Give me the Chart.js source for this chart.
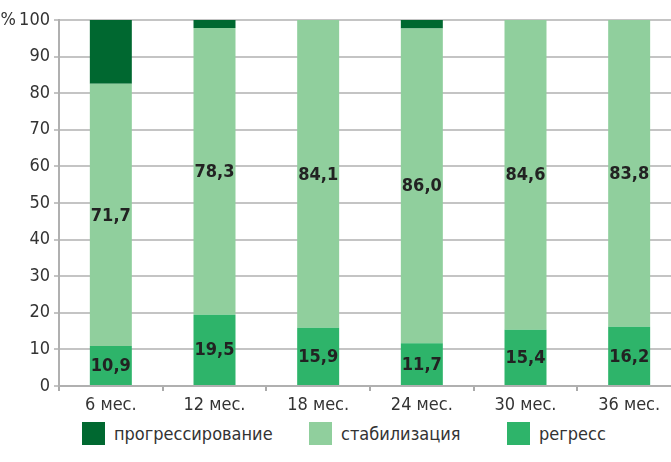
<!DOCTYPE html>
<html>
<head>
<meta charset="utf-8">
<script src="https://cdn.jsdelivr.net/npm/chart.js@4/dist/chart.umd.min.js"></script>
<style>
  html, body { margin: 0; padding: 0; background: #fff; overflow: hidden; }
  body { width: 671px; height: 462px; position: relative; }
  #wrap { position: absolute; left: 0; top: 0; width: 690px; height: 420px; }
  .legend { position: absolute; top: 422px; left: 0; height: 23px;
    font-family: "Liberation Sans Narrow", "DejaVu Sans Condensed", sans-serif;
    font-size: 18px; color: #333; }
  .legend span.sw { position: absolute; top: 0; width: 23px; height: 23px; }
  .legend span.tx { position: absolute; top: 0; line-height: 23px; white-space: nowrap; }
</style>
</head>
<body>
<div id="wrap"><canvas id="chart"></canvas></div>
<div class="legend" id="legend"></div>
<script>
// ---------- data ----------
const categories = ["6 мес.", "12 мес.", "18 мес.", "24 мес.", "30 мес.", "36 мес."];
const regress = [10.9, 19.5, 15.9, 11.7, 15.4, 16.2];
const stabilization = [71.7, 78.3, 84.1, 86.0, 84.6, 83.8];
const progression = [17.4, 2.2, 0, 2.3, 0, 0];
const seriesNames = ["прогрессирование", "стабилизация", "регресс"];
const yTicks = [0, 10, 20, 30, 40, 50, 60, 70, 80, 90, 100];

const DARK = "#006830";
const LIGHT = "#90cf9d";
const MID = "#2eb46a";
const GRID = "#c4c4c4";
const TEXT = "#333333";
const FONT = "'Liberation Sans Narrow', 'DejaVu Sans Condensed', sans-serif";

// ---------- value labels inside segments ----------
const valueLabels = {
  id: "valueLabels",
  afterDatasetsDraw(chart) {
    const ctx = chart.ctx;
    ctx.save();
    ctx.font = "bold 18px " + FONT;
    ctx.fillStyle = "#222";
    ctx.textAlign = "center";
    ctx.textBaseline = "middle";
    [0, 1].forEach((di) => {
      const meta = chart.getDatasetMeta(di);
      meta.data.forEach((bar, i) => {
        const v = chart.data.datasets[di].data[i];
        const yc = (bar.y + bar.base) / 2;
        ctx.fillText(v.toFixed(1).replace(".", ","), bar.x, yc + 1);
      });
    });
    ctx.restore();
  },
};

new Chart(document.getElementById("chart"), {
  type: "bar",
  data: {
    labels: categories,
    datasets: [
      { label: seriesNames[2], data: regress, backgroundColor: MID },
      { label: seriesNames[1], data: stabilization, backgroundColor: LIGHT },
      { label: seriesNames[0], data: progression, backgroundColor: DARK },
    ],
  },
  options: {
    responsive: true,
    maintainAspectRatio: false,
    animation: false,
    datasets: { bar: { categoryPercentage: 1, barPercentage: 0.405, borderWidth: 0 } },
    layout: { padding: { top: 20, right: 9, bottom: 0, left: 0 } },
    plugins: { legend: { display: false }, tooltip: { enabled: false } },
    scales: {
      x: {
        stacked: true,
        grid: { offset: true, drawOnChartArea: false, drawTicks: true, tickLength: 5, color: "#aaa", lineWidth: 2 },
        border: { color: "#b0b0b0", width: 2 },
        ticks: { color: TEXT, font: { family: FONT, size: 18 }, padding: 4 },
        afterFit: (s) => { s.height = 34; },
      },
      y: {
        stacked: true,
        min: 0,
        max: 100,
        afterBuildTicks: (s) => { s.ticks = yTicks.map((v) => ({ value: v })); },
        grid: { color: GRID, lineWidth: 2, tickLength: 5 },
        border: { color: "#b0b0b0", width: 2 },
        ticks: {
          color: TEXT, font: { family: FONT, size: 18 }, padding: 4,
          callback: (v) => (v === 100 ? "%\u2009100" : String(v)),
        },
        afterFit: (s) => { s.width = 59; },
      },
    },
  },
  plugins: [valueLabels],
});

// ---------- legend ----------
const legendItems = [
  { name: seriesNames[0], color: DARK, x: 82 },
  { name: seriesNames[1], color: LIGHT, x: 309 },
  { name: seriesNames[2], color: MID, x: 507 },
];
const legend = document.getElementById("legend");
legendItems.forEach((it) => {
  const sw = document.createElement("span");
  sw.className = "sw";
  sw.style.left = it.x + "px";
  sw.style.background = it.color;
  const tx = document.createElement("span");
  tx.className = "tx";
  tx.style.left = it.x + 32 + "px";
  tx.textContent = it.name;
  legend.appendChild(sw);
  legend.appendChild(tx);
});
</script>
</body>
</html>
